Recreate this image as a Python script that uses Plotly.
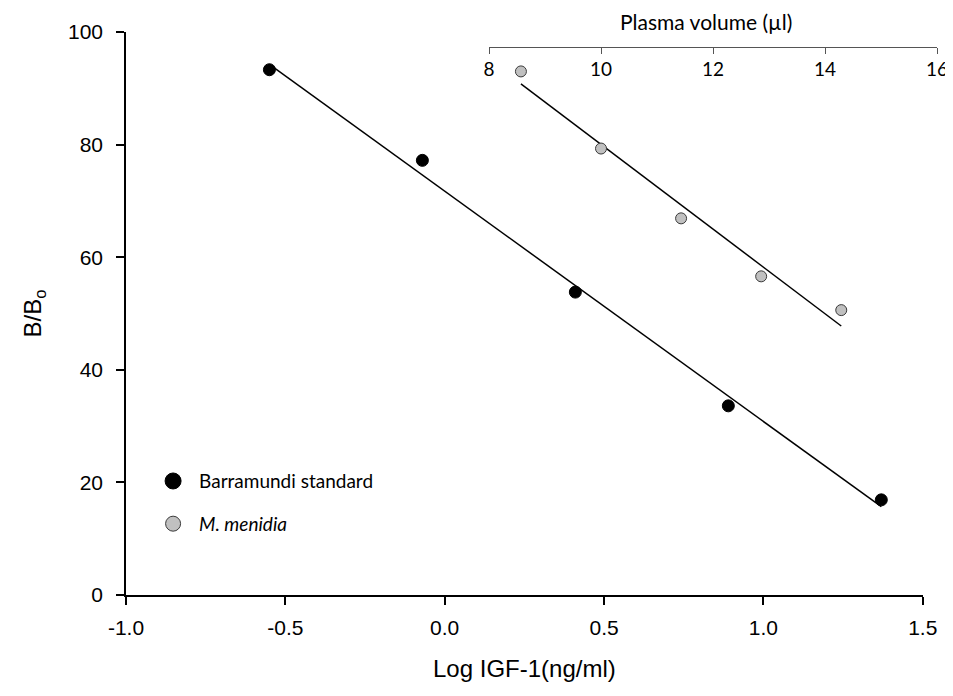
import numpy as np
import plotly.graph_objects as go

# ---- data ----
log_igf = [-0.55, -0.07, 0.41, 0.89, 1.37]          # Barramundi standard, x (bottom axis)
barramundi_bb0 = [93.3, 77.2, 53.8, 33.6, 16.9]      # B/Bo
plasma_volume = [8.57, 10.0, 11.43, 12.86, 14.29]    # M. menidia, x (top axis)
menidia_bb0 = [93.0, 79.3, 66.9, 56.6, 50.6]         # B/Bo

x_ticks = [-1.0, -0.5, 0.0, 0.5, 1.0, 1.5]
x_ticklabels = ["-1.0", "-0.5", "0.0", "0.5", "1.0", "1.5"]
x2_ticks = [8, 10, 12, 14, 16]
y_ticks = [0, 20, 40, 60, 80, 100]

# linear regression lines through each series
def fit_line(xs, ys):
    slope, intercept = np.polyfit(xs, ys, 1)
    xe = np.array([min(xs), max(xs)])
    return xe, slope * xe + intercept

bx, by = fit_line(log_igf, barramundi_bb0)
mx, my = fit_line(plasma_volume, menidia_bb0)

ARIAL = "Liberation Sans, Arial, sans-serif"
CALIBRI = "Lato, Carlito, Calibri, sans-serif"

X2_DOMAIN = [0.4476, 1.0]
X2_POS = 0.9739

fig = go.Figure()
fig.add_trace(go.Scatter(x=bx, y=by, mode="lines", line=dict(color="black", width=1.5),
                         showlegend=False, hoverinfo="skip"))
fig.add_trace(go.Scatter(x=log_igf, y=barramundi_bb0, mode="markers",
                         marker=dict(color="black", size=12, line=dict(color="black", width=1)),
                         showlegend=False))
fig.add_trace(go.Scatter(x=mx, y=my, mode="lines", xaxis="x2", yaxis="y",
                         line=dict(color="black", width=1.5), showlegend=False, hoverinfo="skip"))
fig.add_trace(go.Scatter(x=plasma_volume, y=menidia_bb0, mode="markers", xaxis="x2", yaxis="y",
                         marker=dict(color="#c0c0c0", size=11, line=dict(color="#3a3a3a", width=1)),
                         showlegend=False))
# legend entries
fig.add_trace(go.Scatter(x=[None], y=[None], mode="markers", name="Barramundi standard",
                         marker=dict(color="black", size=16, line=dict(color="black", width=1)),
                         legendgroup="a"))
fig.add_trace(go.Scatter(x=[None], y=[None], mode="markers", name="<i>M. menidia</i>",
                         marker=dict(color="#c0c0c0", size=15, line=dict(color="#3a3a3a", width=1)),
                         legendgroup="b"))

fig.update_layout(
    width=945, height=678,
    margin=dict(l=118, r=16, t=24, b=91, pad=0, autoexpand=False),
    paper_bgcolor="white", plot_bgcolor="rgba(0,0,0,0)",
    font=dict(family=ARIAL, color="black", size=20),
    showlegend=True,
    legend=dict(x=0.026, y=0.236, xanchor="left", yanchor="top",
                font=dict(family=CALIBRI, size=19, color="black"),
                bgcolor="rgba(0,0,0,0)", tracegroupgap=15, itemsizing="trace", itemwidth=42),
    xaxis=dict(domain=[0, 0.9824], range=[-1.0, 1.5], tickvals=x_ticks, ticktext=x_ticklabels,
               showgrid=False, zeroline=False, showline=True, linecolor="black", linewidth=1.5,
               ticks="outside", ticklen=8, tickwidth=1.5, tickcolor="black",
               tickfont=dict(family=ARIAL, size=21), automargin=False, ticklabelstandoff=5,
               title=dict(text="Log IGF-1(ng/ml)", font=dict(family=ARIAL, size=24), standoff=22),
               anchor="y"),
    xaxis2=dict(domain=X2_DOMAIN, range=[8, 16], tickvals=x2_ticks,
                anchor="free", position=X2_POS, side="bottom",
                showgrid=False, zeroline=False, showline=True, linecolor="#555555", linewidth=1,
                ticks="outside", ticklen=6, tickwidth=1, tickcolor="#555555",
                tickfont=dict(family=CALIBRI, size=19), automargin=False),
    yaxis=dict(domain=[0, 1], range=[0, 100], tickvals=y_ticks,
               showgrid=False, zeroline=False, showline=True, linecolor="black", linewidth=1.5,
               ticks="outside", ticklen=8, tickwidth=1.5, tickcolor="black",
               tickfont=dict(family=ARIAL, size=21), automargin=False, ticklabelstandoff=9,
               title=dict(text="B/B<sub>o</sub>", font=dict(family=ARIAL, size=24), standoff=20),
               anchor="x"),
    annotations=[dict(text="Plasma volume (µl)", xref="paper", yref="paper",
                      x=(X2_DOMAIN[0] + X2_DOMAIN[1]) / 2, xshift=-7, y=X2_POS, yshift=11,
                      xanchor="center", yanchor="bottom", showarrow=False,
                      font=dict(family=CALIBRI, size=21, color="black"))],
)

fig.write_html("out.html")
